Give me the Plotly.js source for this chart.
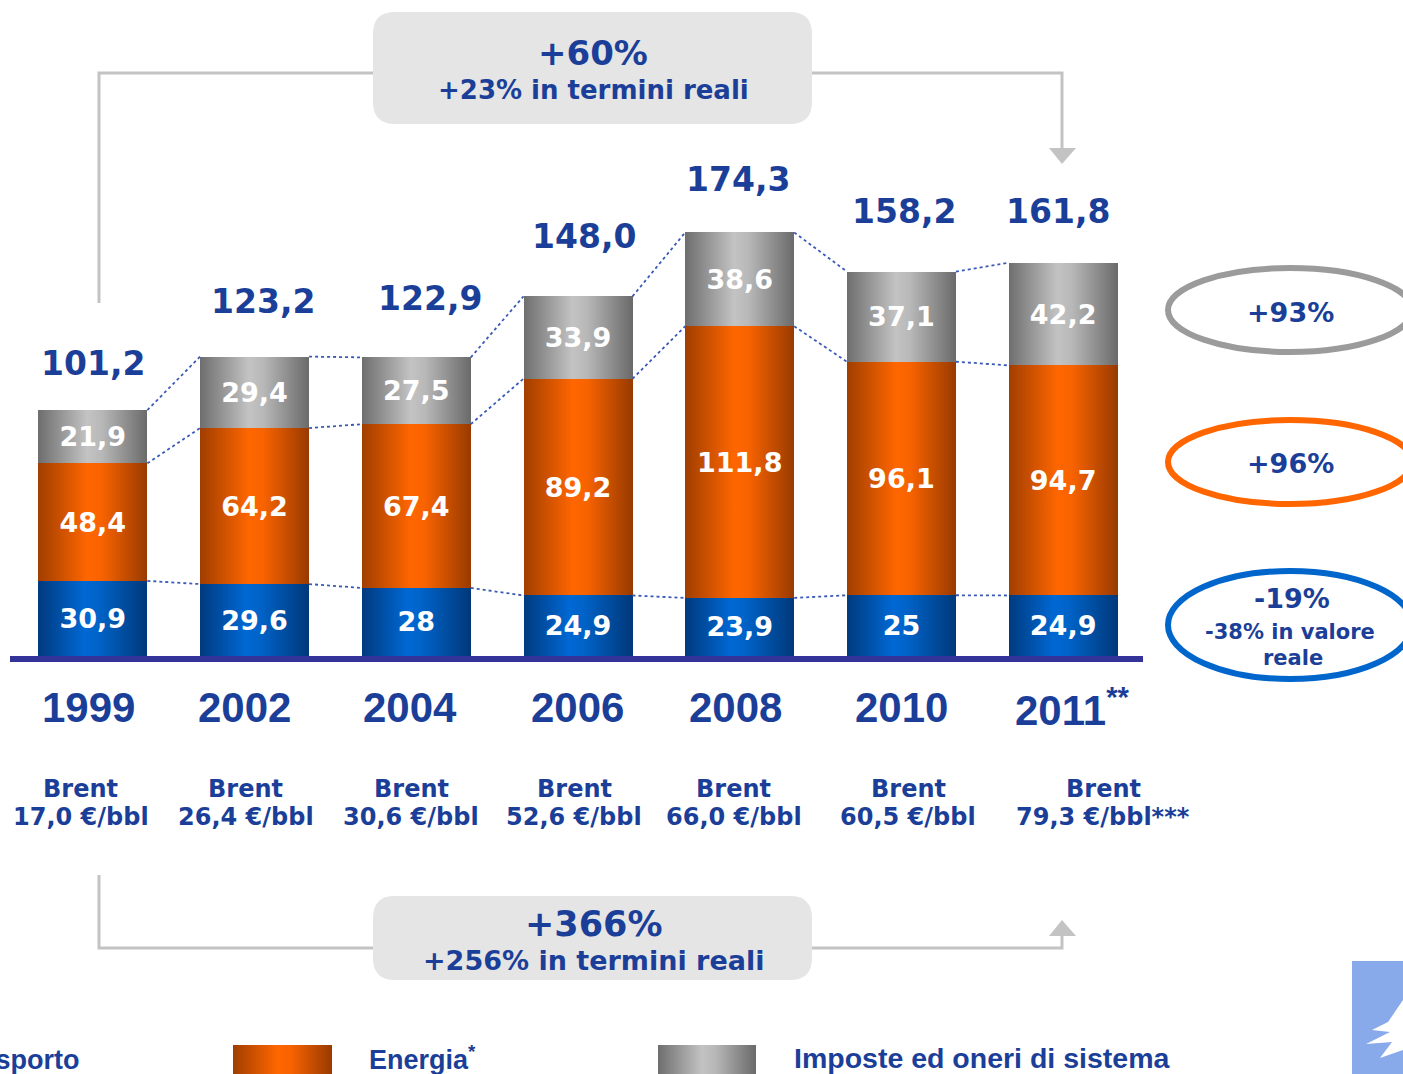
<!DOCTYPE html>
<html><head><meta charset="utf-8">
<script src="https://cdn.plot.ly/plotly-3.0.1.min.js"></script>
<style>html,body{margin:0;padding:0;background:#fff;overflow:hidden}</style>
</head><body><div id="chart" style="width:1403px;height:1074px"></div>
<script>
// ---------- data ----------
const years = ['1999','2002','2004','2006','2008','2010','2011'];
const yearNotes = ['','','','','','','**'];
const trasporto = [30.9,29.6,28,24.9,23.9,25,24.9];
const energia = [48.4,64.2,67.4,89.2,111.8,96.1,94.7];
const imposte = [21.9,29.4,27.5,33.9,38.6,37.1,42.2];
const totals = [101.2,123.2,122.9,148.0,174.3,158.2,161.8];
const brent = [17.0,26.4,30.6,52.6,66.0,60.5,79.3];
const brentNotes = ['','','','','','','***'];
const seriesNames = ['Trasporto','Energia','Imposte ed oneri di sistema'];
const seriesNotes = ['','*',''];
const changeTop = ['+60%','+23% in termini reali'];
const changeBottom = ['+366%','+256% in termini reali'];
const changeSeries = ['+93%','+96%','-19%'];
const changeBlueReal = ['-38% in valore','reale'];

// ---------- helpers ----------
const BLUE_TXT = '#1b3f98';
const fmt = v => String(v).replace('.', ',');
const fmt1 = v => v.toFixed(1).replace('.', ',');
const L = 12, PW = 1132, T = 20, PH = 642;
const px = x => (x - L) / PW;
const py = y => (T + PH - y) / PH;
const S = 2.43; // px per unit
const idx = years.map((_, i) => i);
const BW = 0.674;

const barFont = {family: 'DejaVu Sans', size: 27, color: '#ffffff', weight: 'bold'};
function barTrace(vals, color, name) {
  return {type: 'bar', x: idx, y: vals, name: name, width: BW,
    marker: {color: color, line: {width: 0}},
    text: vals.map(fmt), textposition: 'inside', insidetextanchor: 'middle',
    textangle: 0, constraintext: 'none', textfont: barFont, hoverinfo: 'skip'};
}
const lvl1 = trasporto.slice();
const lvl2 = trasporto.map((v, i) => v + energia[i]);
const lvl3 = totals.slice();
function connector(lv) {
  const x = [], y = [];
  for (let i = 0; i < lv.length - 1; i++) {
    x.push(i + BW / 2, i + 1 - BW / 2, null);
    y.push(lv[i], lv[i + 1], null);
  }
  return {type: 'scatter', mode: 'lines', x: x, y: y, hoverinfo: 'skip', cliponaxis: false,
    line: {color: '#3a5ab8', width: 1.8, dash: 'dot'}};
}
const data = [
  barTrace(trasporto, '#0066cc', seriesNames[0]),
  barTrace(energia, '#ff6600', seriesNames[1]),
  barTrace(imposte, '#a0a0a0', seriesNames[2]),
  connector(lvl1), connector(lvl2), connector(lvl3)
];

// ---------- annotations ----------
const ann = [];
const totShiftY = [47, 55, 59, 60, 53, 60, 51];
const totShiftX = [0, 8, 14, 6, -2, 3, -5];
totals.forEach((t, i) => ann.push({x: i, y: t, xref: 'x', yref: 'y', text: fmt1(t), showarrow: false,
  yshift: totShiftY[i], xshift: totShiftX[i], yanchor: 'middle',
  font: {family: 'DejaVu Sans', size: 33, color: BLUE_TXT, weight: 'bold'}}));
const yearShift = [-4, -10, -6, -1, -4, 0, 9];
years.forEach((y, i) => ann.push({x: i, xref: 'x', y: py(707), yref: 'paper', showarrow: false,
  text: y + (yearNotes[i] ? '<sup>' + yearNotes[i] + '</sup>' : ''), xshift: yearShift[i], yanchor: 'middle',
  font: {family: 'Liberation Sans', size: 42, color: BLUE_TXT, weight: 'bold'}}));
const brentShift = [-12, -9, -5, -4, -6, 7, 40];
brent.forEach((b, i) => {
  ann.push({x: i, xref: 'x', y: py(789), yref: 'paper', showarrow: false, text: 'Brent',
    xshift: brentShift[i], yanchor: 'middle',
    font: {family: 'DejaVu Sans', size: 24, color: BLUE_TXT, weight: 'bold'}});
  ann.push({x: i, xref: 'x', y: py(817), yref: 'paper', showarrow: false,
    text: fmt1(b) + ' €/bbl' + brentNotes[i], xshift: brentShift[i], yanchor: 'middle',
    font: {family: 'DejaVu Sans', size: 24, color: BLUE_TXT, weight: 'bold'}});
});
function txt(x, y, text, size, fam, anchor) {
  ann.push({x: px(x), y: py(y), xref: 'paper', yref: 'paper', text: text, showarrow: false,
    xanchor: anchor || 'center', yanchor: 'middle',
    font: {family: fam || 'DejaVu Sans', size: size, color: BLUE_TXT, weight: 'bold'}});
}
txt(593, 53, changeTop[0], 34);
txt(593, 90, changeTop[1], 26);
txt(593, 924, changeBottom[0], 35);
txt(593, 960, changeBottom[1], 27);
txt(1290, 312, changeSeries[0], 27);
txt(1290, 463, changeSeries[1], 27);
txt(1292, 598, changeSeries[2], 27);
txt(1290, 632, changeBlueReal[0], 21);
txt(1293, 658, changeBlueReal[1], 21);
txt(82, 1060, seriesNames[0] + seriesNotes[0], 27, 'Liberation Sans', 'right');
txt(367, 1058, seriesNames[1] + (seriesNotes[1] ? '<sup>' + seriesNotes[1] + '</sup>' : ''), 27, 'Liberation Sans', 'left');
txt(792, 1058, seriesNames[2] + seriesNotes[2], 28.5, 'Liberation Sans', 'left');

// ---------- shapes ----------
const shapes = [];
function rect(x0, y0, x1, y1, fill, layer) {
  shapes.push({type: 'rect', xref: 'paper', yref: 'paper', x0: px(x0), x1: px(x1), y0: py(y1), y1: py(y0),
    fillcolor: fill, line: {width: 0}, layer: layer || 'above'});
}
function poly(pts, fill, lineColor, lw, closed, layer) {
  let d = pts.map((p, k) => (k ? 'L' : 'M') + px(p[0]).toFixed(5) + ',' + py(p[1]).toFixed(5)).join(' ');
  if (closed) d += ' Z';
  shapes.push({type: 'path', xref: 'paper', yref: 'paper', path: d,
    fillcolor: fill || 'rgba(0,0,0,0)', line: {color: lineColor || 'rgba(0,0,0,0)', width: lw || 0}, layer: layer || 'below'});
}
function rrect(x0, y0, x1, y1, r, fill) {
  const P = (x, y) => px(x).toFixed(5) + ',' + py(y).toFixed(5);
  const d = 'M' + P(x0 + r, y0) + ' L' + P(x1 - r, y0) + ' Q' + P(x1, y0) + ' ' + P(x1, y0 + r) +
    ' L' + P(x1, y1 - r) + ' Q' + P(x1, y1) + ' ' + P(x1 - r, y1) + ' L' + P(x0 + r, y1) +
    ' Q' + P(x0, y1) + ' ' + P(x0, y1 - r) + ' L' + P(x0, y0 + r) + ' Q' + P(x0, y0) + ' ' + P(x0 + r, y0) + ' Z';
  shapes.push({type: 'path', xref: 'paper', yref: 'paper', path: d, fillcolor: fill, line: {width: 0}, layer: 'below'});
}
function ellipse(x0, y0, x1, y1, color) {
  shapes.push({type: 'circle', xref: 'paper', yref: 'paper', x0: px(x0), x1: px(x1), y0: py(y1), y1: py(y0),
    line: {color: color, width: 6}, fillcolor: 'rgba(0,0,0,0)', layer: 'above'});
}
const GL = '#c3c3c3';
// top connector
poly([[99, 303], [99, 73], [380, 73]], null, GL, 3);
poly([[805, 73], [1062, 73], [1062, 150]], null, GL, 3);
poly([[1049, 148], [1076, 148], [1062, 164]], GL, null, 0, true);
// bottom connector
poly([[99, 875], [99, 948], [380, 948]], null, GL, 3);
poly([[805, 948], [1062, 948], [1062, 934]], null, GL, 3);
poly([[1049, 936], [1076, 936], [1062, 920]], GL, null, 0, true);
// boxes
rrect(373, 12, 812, 124, 22, '#e5e5e5');
rrect(373, 896, 812, 980, 22, '#e5e5e5');
// baseline
rect(10, 656, 1143, 662, '#343399');
// ellipses
ellipse(1168, 268, 1412, 352, '#9b9b9b');
ellipse(1168, 420, 1412, 504, '#ff6600');
ellipse(1168, 571, 1412, 679, '#0066cc');
// legend swatches
rect(-150, 1045, -50, 1080, '#0066cc');
rect(233, 1045, 332, 1080, '#ff6600');
rect(658, 1045, 756, 1080, '#a0a0a0');
// logo
rect(1352, 961, 1410, 1080, '#88aaea');
poly([[1403, 1000], [1388, 1022], [1372, 1030], [1390, 1032], [1366, 1044], [1392, 1042], [1380, 1058], [1403, 1050]], '#ffffff', null, 0, true, 'above');

const layout = {
  width: 1403, height: 1074,
  margin: {l: L, r: 1403 - L - PW, t: T, b: 1074 - T - PH, pad: 0},
  paper_bgcolor: '#ffffff', plot_bgcolor: 'rgba(0,0,0,0)',
  barmode: 'stack', showlegend: false,
  xaxis: {range: [-0.5, 6.5], visible: false, fixedrange: true},
  yaxis: {range: [-6 / S, 636 / S], visible: false, fixedrange: true},
  annotations: ann, shapes: shapes,
  font: {family: 'DejaVu Sans', color: BLUE_TXT}
};

Plotly.newPlot('chart', data, layout, {staticPlot: true, displayModeBar: false}).then(gd => {
  const ns = 'http://www.w3.org/2000/svg';
  const svg = gd.querySelector('svg.main-svg');
  let defs = svg.querySelector('defs');
  if (!defs) { defs = document.createElementNS(ns, 'defs'); svg.insertBefore(defs, svg.firstChild); }
  const grads = {
    gBlue: [['0', '#003a7e'], ['0.42', '#0068d4'], ['0.55', '#0063c8'], ['1', '#00387a']],
    gOrange: [['0', '#a03e00'], ['0.45', '#ff6600'], ['0.58', '#f86300'], ['1', '#983a00']],
    gGray: [['0', '#6e6e6e'], ['0.45', '#c3c3c3'], ['0.58', '#b8b8b8'], ['1', '#6a6a6a']]
  };
  Object.keys(grads).forEach(id => {
    const lg = document.createElementNS(ns, 'linearGradient');
    lg.setAttribute('id', id); lg.setAttribute('x1', '0'); lg.setAttribute('x2', '1');
    lg.setAttribute('y1', '0'); lg.setAttribute('y2', '0');
    grads[id].forEach(s => { const st = document.createElementNS(ns, 'stop');
      st.setAttribute('offset', s[0]); st.setAttribute('stop-color', s[1]); lg.appendChild(st); });
    defs.appendChild(lg);
  });
  const map = {'rgb(0, 102, 204)': 'gBlue', 'rgb(255, 102, 0)': 'gOrange', 'rgb(160, 160, 160)': 'gGray'};
  gd.querySelectorAll('path').forEach(p => { const f = p.style.fill; if (map[f]) p.style.fill = 'url(#' + map[f] + ')'; });
});
</script></body></html>
